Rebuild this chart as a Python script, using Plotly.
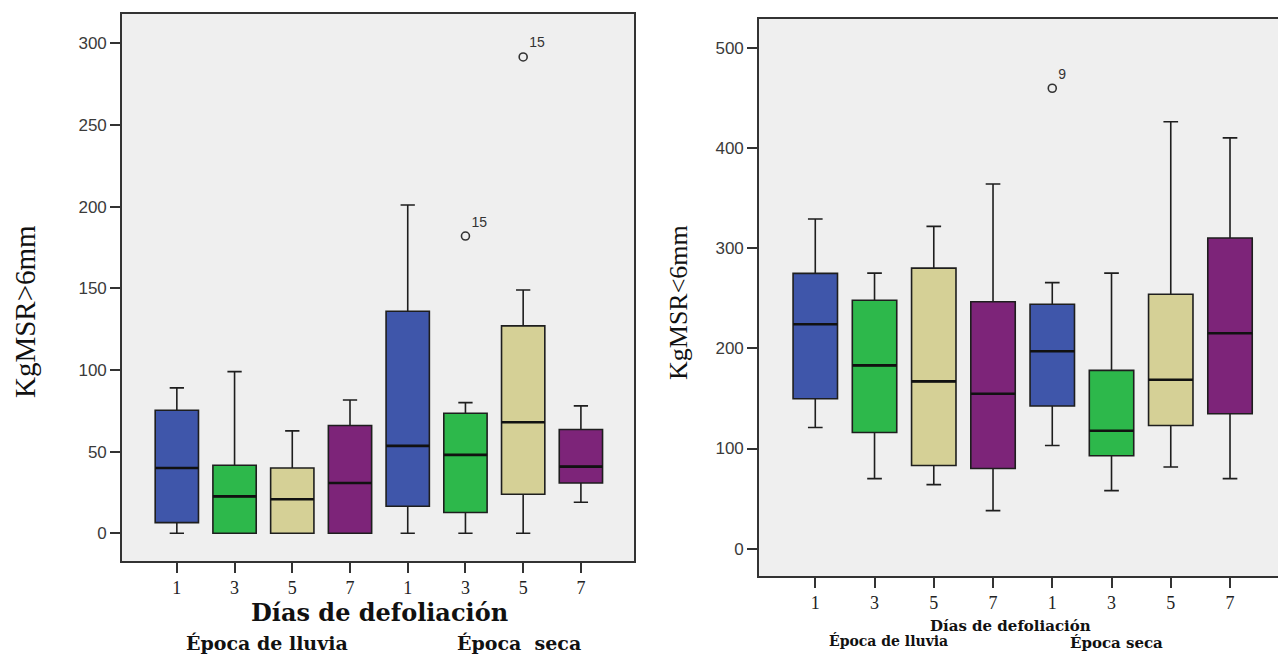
import plotly.graph_objects as go

# ---- data ----
days = ['1', '3', '5', '7', '1', '3', '5', '7']
seasons = ['Época de lluvia'] * 4 + ['Época seca'] * 4
box_colors = ['#3F56AA', '#2DB84B', '#D5D096', '#7D2479']

# Left panel: KgMSR>6mm
left_lo = [0, 0, 0, 0, 0, 0, 0, 19]
left_q1 = [6.5, 0, 0, 0, 16.5, 12.7, 23.9, 30.8]
left_med = [40, 22.6, 20.8, 30.8, 53.5, 48, 68, 40.8]
left_q3 = [75.3, 41.6, 40, 66, 136, 73.5, 127, 63.5]
left_hi = [89, 99, 62.7, 81.6, 201, 80, 149, 78]
left_out_idx = [5, 6]
left_out_val = [182, 291.7]
left_out_lab = ['15', '15']

# Right panel: KgMSR<6mm
right_lo = [121, 70, 64, 38, 103, 58, 81.5, 70]
right_q1 = [149.7, 116, 83, 80, 142.4, 92.8, 123, 134.7]
right_med = [224, 183, 167, 154.7, 197, 117.8, 168.7, 215]
right_q3 = [274.8, 248, 280, 246.5, 244, 178, 254, 310]
right_hi = [329, 275, 321.7, 364, 265.5, 275, 426, 410]
right_out_idx = [4]
right_out_val = [459.5]
right_out_lab = ['9']

W, H = 1278, 656
BOXW = 0.75
fig = go.Figure()

def add_panel(xa, ya, lo, q1, med, q3, hi, oidx, oval, olab):
    for i in range(len(days)):
        fig.add_trace(go.Box(
            x=[i], q1=[q1[i]], median=[med[i]], q3=[q3[i]],
            lowerfence=[lo[i]], upperfence=[hi[i]],
            fillcolor=box_colors[i % 4],
            line=dict(color='#1e1e1e', width=1.6),
            whiskerwidth=0.33, width=BOXW, boxpoints=False,
            xaxis=xa, yaxis=ya, showlegend=False, hoverinfo='skip'))
    # thicker median lines
    mx, my = [], []
    for i, m in enumerate(med):
        mx += [i - BOXW / 2, i + BOXW / 2, None]
        my += [m, m, None]
    fig.add_trace(go.Scatter(x=mx, y=my, mode='lines',
                             line=dict(color='#111', width=2.6),
                             xaxis=xa, yaxis=ya, showlegend=False, hoverinfo='skip'))
    fig.add_trace(go.Scatter(
        x=oidx, y=oval, mode='markers+text', text=olab,
        textposition='top right',
        textfont=dict(family='Liberation Sans, Arial', size=14, color='#333'),
        marker=dict(symbol='circle-open', size=8, color='#333', line=dict(width=1.6)),
        xaxis=xa, yaxis=ya, showlegend=False, hoverinfo='skip'))

add_panel('x', 'y', left_lo, left_q1, left_med, left_q3, left_hi,
          left_out_idx, left_out_val, left_out_lab)
add_panel('x2', 'y2', right_lo, right_q1, right_med, right_q3, right_hi,
          right_out_idx, right_out_val, right_out_lab)

tickfont_y = dict(family='Liberation Sans, Arial', size=17, color='#3a3a3a')
tickfont_x = dict(family='Liberation Serif, Times New Roman', size=18, color='#222')
axcommon = dict(showline=True, linecolor='#333', linewidth=1.6, showgrid=False,
                zeroline=False, ticks='outside', ticklen=10, tickcolor='#333',
                tickwidth=1.6)

fig.update_layout(
    width=W, height=H, autosize=False,
    margin=dict(l=0, r=0, t=0, b=0),
    paper_bgcolor='white',
    plot_bgcolor='#EFEFEF',
    boxmode='overlay',
    xaxis=dict(domain=[122 / W, 634 / W], range=[-0.95, 7.92], anchor='y',
               tickvals=list(range(8)), ticktext=days, tickfont=tickfont_x,
               mirror=True, **axcommon),
    yaxis=dict(domain=[1 - 561 / H, 1 - 14 / H], range=[-17, 318], anchor='x',
               tickvals=[0, 50, 100, 150, 200, 250, 300], tickfont=tickfont_y,
               mirror=True, **axcommon),
    xaxis2=dict(domain=[759 / W, 1.0], range=[-0.95, 7.81], anchor='y2',
                tickvals=list(range(8)), ticktext=days, tickfont=tickfont_x,
                mirror=True, **axcommon),
    yaxis2=dict(domain=[1 - 576 / H, 1 - 19 / H], range=[-27.2, 528.6], anchor='x2',
                tickvals=[0, 100, 200, 300, 400, 500], tickfont=tickfont_y,
                mirror=False, **axcommon),
)

serif = 'Liberation Serif, Times New Roman, serif'
serif_w = 'DejaVu Serif, serif'
ann = [
    dict(text='KgMSR>6mm', x=25 / W, y=1 - 312 / H, textangle=-90,
         font=dict(family=serif, size=29, color='#111')),
    dict(text='KgMSR<6mm', x=678 / W, y=1 - 303 / H, textangle=-90,
         font=dict(family=serif, size=26, color='#111')),
    dict(text='<b>Días de defoliación</b>', x=379 / W, y=1 - 612 / H,
         font=dict(family=serif_w, size=24, color='#111')),
    dict(text='<b>' + seasons[0] + '</b>', x=267 / W, y=1 - 643 / H,
         font=dict(family=serif_w, size=19, color='#111')),
    dict(text='<b>' + seasons[4].replace(' ', '&nbsp;&nbsp;') + '</b>', x=519 / W, y=1 - 643 / H,
         font=dict(family=serif_w, size=19, color='#111')),
    dict(text='<b>Días de defoliación</b>', x=1010 / W, y=1 - 626 / H,
         font=dict(family=serif_w, size=15, color='#111')),
    dict(text='<b>' + seasons[0] + '</b>', x=888 / W, y=1 - 640 / H,
         font=dict(family=serif_w, size=14, color='#111')),
    dict(text='<b>' + seasons[4] + '</b>', x=1116 / W, y=1 - 643 / H,
         font=dict(family=serif_w, size=15, color='#111')),
]
for a in ann:
    fig.add_annotation(xref='paper', yref='paper', showarrow=False,
                       xanchor='center', yanchor='middle', **a)

fig.write_html('out.html', config={'displayModeBar': False},
               post_script="document.body.style.margin='0';")
